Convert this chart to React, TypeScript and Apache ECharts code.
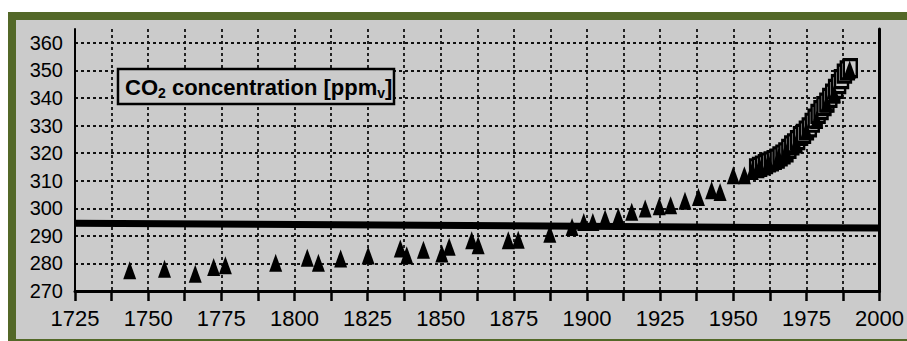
import React, { useEffect, useRef } from 'react';
import * as echarts from 'echarts';

// Siple-type ice-core samples (triangles)
const iceYears = [
  1743.7, 1755.6, 1766.1, 1772.4, 1776.4, 1793.6, 1804.4, 1808.2, 1815.8, 1825.2,
  1836.2, 1838.4, 1844.1, 1850.4, 1852.9, 1860.6, 1862.8, 1873.1, 1876.5, 1887.3,
  1894.9, 1898.9, 1902.0, 1906.2, 1910.7, 1915.3, 1919.9, 1924.7, 1928.6, 1933.5,
  1938.1, 1942.6, 1945.5, 1950.0, 1953.8,
  1956.5, 1959.0, 1962.0, 1965.5, 1968.0, 1971.5, 1975.0, 1978.5, 1982.0, 1984.5, 1989.8,
];
const iceValues = [
  277.5, 278.1, 276.3, 278.7, 279.3, 280.2, 282.1, 280.2, 281.8, 282.9,
  285.4, 283.0, 285.0, 283.6, 286.0, 288.4, 286.6, 288.4, 288.6, 290.8,
  293.2, 295.0, 295.0, 296.3, 296.9, 298.7, 299.9, 300.7, 301.1, 302.7,
  304.1, 306.5, 305.9, 312.0, 312.0,
  313.5, 315.0, 316.5, 318.5, 320.5, 323.5, 328.0, 332.0, 338.0, 341.5, 350.3,
];

// Direct atmospheric measurements (squares)
const airYears = [
  1958, 1959, 1960, 1961, 1962, 1963, 1964, 1965, 1966, 1967, 1968,
  1969, 1970, 1971, 1972, 1973, 1974, 1975, 1976, 1977, 1978, 1979,
  1980, 1981, 1982, 1983, 1984, 1985, 1986, 1987, 1988, 1989, 1990,
];
const airValues = [
  314.5, 315.0, 315.5, 316.0, 316.6, 317.0, 317.5, 318.0, 318.8, 319.5, 320.3,
  321.5, 322.8, 323.5, 324.7, 326.2, 327.0, 328.2, 329.3, 331.0, 332.5, 334.2,
  335.6, 337.0, 338.3, 340.0, 341.6, 343.3, 345.0, 346.8, 348.8, 350.0, 350.8,
];

// Pre-industrial reference level (thick horizontal bar)
const baseYears = [1725, 2000];
const baseValues = [294.6, 292.8];

const xMin = 1725;
const xMax = 2000;
const xStep = 12.5;
const yMin = 270;
const yMax = 365;
const yStep = 10;
const yTopLabel = 360;

const FONT = 'Liberation Sans';
const GRAY = '#cbcbcb';
const GREEN = '#536828';

const gridLine = { color: '#111', width: 1.8, type: [3, 3] as number[] };

export default function App() {
  const ref = useRef<HTMLDivElement>(null);

  useEffect(() => {
    if (!ref.current) return;
    const chart = echarts.init(ref.current, null, { renderer: 'svg' });
    const option: any = {
      animation: false,
      backgroundColor: 'transparent',
      grid: { left: 75, right: 24, top: 29, bottom: 50, containLabel: false },
      xAxis: {
        type: 'value',
        min: xMin,
        max: xMax,
        interval: xStep,
        axisLine: { show: true, onZero: false, lineStyle: { color: '#000', width: 3 } },
        axisTick: { show: true, inside: false, length: 10, lineStyle: { color: '#000', width: 2.5 } },
        axisLabel: {
          formatter: (v: number) => (v % 25 === 0 ? String(v) : ''),
          fontSize: 22,
          fontFamily: FONT,
          color: '#000',
          margin: 16,
          showMinLabel: true,
          showMaxLabel: true,
        },
        splitLine: { show: true, showMinLine: false, showMaxLine: false, lineStyle: gridLine },
      },
      yAxis: [
        {
          type: 'value',
          min: yMin,
          max: yMax,
          interval: yStep,
          position: 'left',
          axisLine: { show: true, onZero: false, lineStyle: { color: '#000', width: 2 } },
          axisTick: { show: false },
          axisLabel: {
            formatter: (v: number) => (v <= yTopLabel ? String(v) : ''),
            fontSize: 20,
            fontFamily: FONT,
            color: '#000',
            margin: 12,
          },
          splitLine: { show: true, showMinLine: false, showMaxLine: false, lineStyle: gridLine },
        },
        {
          type: 'value',
          min: yMin,
          max: yMax,
          interval: yStep,
          position: 'right',
          axisLine: { show: true, onZero: false, lineStyle: { color: '#000', width: 3 } },
          axisTick: { show: false },
          axisLabel: { show: false },
          splitLine: { show: false },
        },
      ],
      series: [
        {
          type: 'line',
          data: baseYears.map((y, i) => [y, baseValues[i]]),
          symbol: 'none',
          lineStyle: { color: '#000', width: 7 },
          z: 2,
        },
        {
          type: 'scatter',
          data: airYears.map((y, i) => [y, airValues[i]]),
          symbol: 'rect',
          symbolSize: [13, 17],
          itemStyle: { color: GRAY, borderColor: '#000', borderWidth: 2.8, opacity: 1 },
          z: 3,
        },
        {
          type: 'scatter',
          data: iceYears.map((y, i) => [y, iceValues[i]]),
          symbol: 'triangle',
          symbolSize: [13, 18],
          itemStyle: { color: '#000', opacity: 1 },
          z: 4,
        },
      ],
      graphic: [
        {
          type: 'rect',
          z: 100,
          shape: { x: 118, y: 69, width: 276, height: 35 },
          style: { fill: GRAY, stroke: '#000', lineWidth: 2.5 },
        },
        {
          type: 'text',
          z: 101,
          x: 125,
          y: 87,
          style: {
            text: '{a|CO}{s|2}{a| concentration [ppm}{s|v}{a|]}',
            verticalAlign: 'middle',
            rich: {
              a: { fontSize: 22, fontWeight: 'bold', fontFamily: FONT, fill: '#000' },
              s: { fontSize: 14, fontWeight: 'bold', fontFamily: FONT, fill: '#000', padding: [12, 0, 0, 0] },
            },
          },
        },
      ],
    };
    chart.setOption(option);
    return () => chart.dispose();
  }, []);

  return (
    <div style={{ position: 'fixed', left: 0, top: 0, width: 907, height: 341, background: '#fff' }}>
      <div style={{ position: 'absolute', left: 8, top: 12, width: 899, height: 329, background: GREEN }} />
      <div style={{ position: 'absolute', left: 16, top: 20, width: 891, height: 319, background: GRAY }} />
      <div ref={ref} style={{ position: 'absolute', left: 0, top: 0, width: 907, height: 341 }} />
    </div>
  );
}
